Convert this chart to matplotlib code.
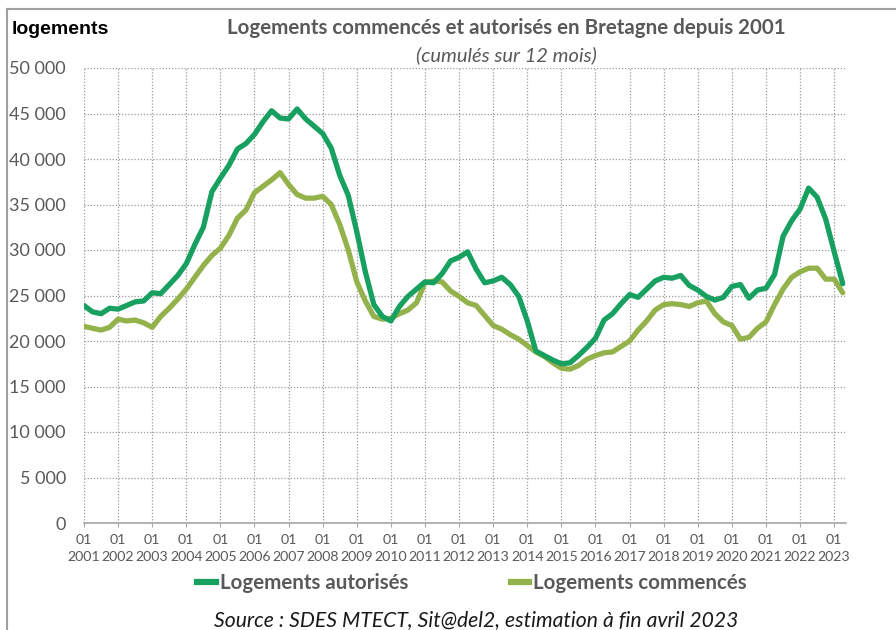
import numpy as np
import pandas as pd
import matplotlib
matplotlib.use("Agg")
import matplotlib.pyplot as plt
from matplotlib.lines import Line2D
from matplotlib.ticker import FuncFormatter

# quarterly readings (cumul 12 mois), Jan 2001 -> Apr 2023
dates = pd.date_range("2001-01-01", "2023-04-01", freq="QS")

autorises = [
    23.9, 23.2, 23.0, 23.6, 23.5, 23.9, 24.3, 24.4,   # 2001-2002
    25.3, 25.2, 26.2, 27.2, 28.5, 30.6, 32.5, 36.4,   # 2003-2004
    37.9, 39.3, 41.1, 41.7, 42.7, 44.1, 45.3, 44.5,   # 2005-2006
    44.4, 45.5, 44.4, 43.6, 42.8, 41.2, 38.2, 36.0,   # 2007-2008
    32.0, 27.6, 24.0, 22.7, 22.2, 23.8, 24.9, 25.7,   # 2009-2010
    26.5, 26.4, 27.4, 28.8, 29.2, 29.8, 27.9, 26.4,   # 2011-2012
    26.6, 27.0, 26.2, 24.9, 22.2, 18.9, 18.4, 17.9,   # 2013-2014
    17.5, 17.6, 18.4, 19.3, 20.3, 22.3, 23.0, 24.1,   # 2015-2016
    25.1, 24.8, 25.7, 26.6, 27.0, 26.9, 27.2, 26.1,   # 2017-2018
    25.6, 24.9, 24.5, 24.8, 26.0, 26.2, 24.7, 25.6,   # 2019-2020
    25.8, 27.3, 31.5, 33.2, 34.5, 36.8, 35.8, 33.4,   # 2021-2022
    29.8, 26.3,                                       # 2023
]
commences = [
    21.6, 21.4, 21.2, 21.5, 22.4, 22.2, 22.3, 22.0,
    21.5, 22.7, 23.6, 24.6, 25.7, 27.0, 28.3, 29.4,
    30.2, 31.6, 33.5, 34.4, 36.3, 37.0, 37.7, 38.5,
    37.2, 36.1, 35.7, 35.7, 35.9, 35.0, 32.8, 30.0,
    26.5, 24.4, 22.7, 22.4, 22.5, 23.0, 23.4, 24.2,
    26.4, 26.6, 26.5, 25.5, 24.9, 24.2, 23.9, 22.8,
    21.7, 21.3, 20.7, 20.2, 19.5, 18.8, 18.3, 17.6,
    17.0, 16.9, 17.3, 18.0, 18.4, 18.7, 18.8, 19.4,
    20.0, 21.2, 22.2, 23.4, 24.0, 24.1, 24.0, 23.8,
    24.2, 24.4, 23.0, 22.1, 21.7, 20.2, 20.4, 21.4,
    22.1, 24.0, 25.7, 27.0, 27.6, 28.0, 28.0, 26.8,
    26.8, 25.3,
]
years = list(range(2001, 2024))

x = dates.year + (dates.month - 1) / 12.0
aut = np.array(autorises) * 1000
com = np.array(commences) * 1000

c_aut = "#17a060"
c_com = "#93b24b"
grey = "#595959"

plt.rcParams["font.family"] = ["Lato", "DejaVu Sans"]

fig = plt.figure(figsize=(8.96, 6.30), dpi=100)
ax = fig.add_axes([84 / 896, 1 - 523 / 630, (846 - 84) / 896, (523 - 68) / 630])

ax.plot(x, com, color=c_com, lw=3.8, solid_capstyle="round", zorder=3)
ax.plot(x, aut, color=c_aut, lw=3.8, solid_capstyle="round", zorder=4)

ax.set_xlim(2001, 2001 + (846 - 84) / 34.1)
ax.set_ylim(0, 50000)
ax.set_yticks(np.arange(0, 50001, 5000))
ax.yaxis.set_major_formatter(FuncFormatter(lambda v, p: f"{int(v):,}".replace(",", " ")))
ax.set_xticks(years)
ax.set_xticklabels([f"01\n{y}" for y in years], fontsize=10.2, color=grey, linespacing=1.45)

ax.grid(True, color="#9a9a9a", linestyle=(0, (1, 1.5)), lw=0.9)
for s in ["top", "right", "left"]:
    ax.spines[s].set_visible(False)
ax.spines["bottom"].set_color("#a6a6a6")
ax.spines["bottom"].set_linewidth(1.2)
ax.tick_params(axis="y", length=0, pad=13, labelsize=13, labelcolor=grey)
ax.tick_params(axis="x", length=3, color="#a6a6a6", pad=5)

fig.text(12 / 896, 1 - 30 / 630, "logements", fontsize=14, fontweight="bold",
         family=["Liberation Sans", "DejaVu Sans"], va="center", ha="left")
fig.text(506 / 896, 1 - 28 / 630, "Logements commencés et autorisés en Bretagne depuis 2001",
         fontsize=14.8, fontweight="bold", color=grey, ha="center", va="center")
fig.text(506 / 896, 1 - 55 / 630, "(cumulés sur 12 mois)", fontsize=14.5, style="italic",
         color=grey, ha="center", va="center")

handles = [Line2D([], [], color=c_aut, lw=4.5), Line2D([], [], color=c_com, lw=4.5)]
fig.legend(handles, ["Logements autorisés", "Logements commencés"], loc="center",
           bbox_to_anchor=(472 / 896, 1 - 583 / 630), ncol=2, frameon=False,
           handlelength=0.9, handletextpad=0.2, columnspacing=5.0,
           prop={"size": 14.8, "weight": "bold"}, labelcolor=grey)

fig.text(476 / 896, 1 - 620 / 630, "Source : SDES MTECT, Sit@del2, estimation à fin avril 2023",
         fontsize=15.2, style="italic", ha="center", va="center", color="#1a1a1a")

# outer frame
fig.add_artist(Line2D([7 / 896, 1], [1 - 9 / 630, 1 - 9 / 630], color="#a0a0a0", lw=1.5,
                      transform=fig.transFigure))
fig.add_artist(Line2D([7 / 896, 7 / 896], [0, 1 - 9 / 630], color="#a0a0a0", lw=1.5,
                      transform=fig.transFigure))

fig.savefig("out.png", dpi=100, facecolor="white")
